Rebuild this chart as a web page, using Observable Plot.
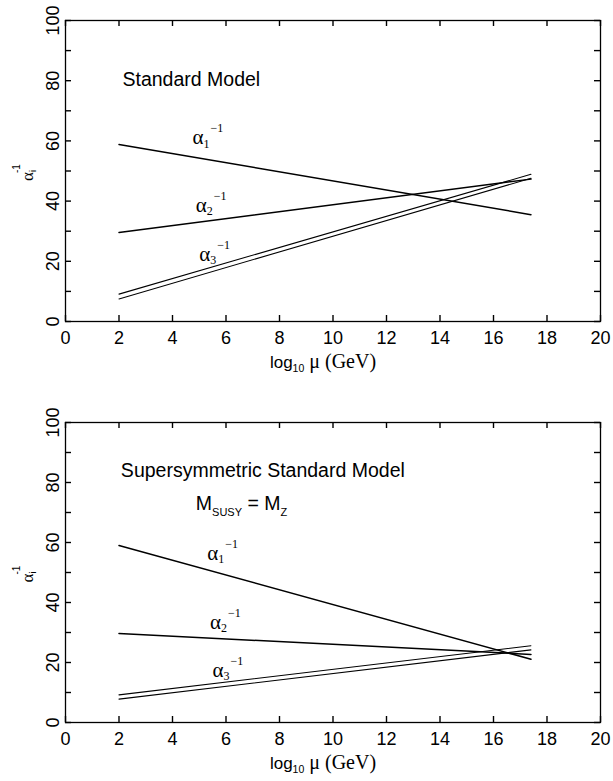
<!DOCTYPE html>
<html><head><meta charset="utf-8">
<script src="https://cdn.jsdelivr.net/npm/d3@7"></script>
<script src="https://cdn.jsdelivr.net/npm/@observablehq/plot@0.6"></script>
<style>
body{margin:0;background:#fff;}
#chart svg{display:block;}
</style></head><body><div id="chart"></div>
<script>
// ---- data ----
const xTicks = [0, 2, 4, 6, 8, 10, 12, 14, 16, 18, 20];
const yTicks = [0, 20, 40, 60, 80, 100];
const yMinorTicks = [0, 10, 20, 30, 40, 50, 60, 70, 80, 90, 100];
const mu = [2, 17.4]; // log10 mu (GeV) at start and end of each line

// Standard Model
const smAlpha1 = [58.8, 35.5];
const smAlpha2 = [29.6, 47.3];
const smAlpha3Upper = [9.1, 48.9];
const smAlpha3Lower = [7.5, 47.6];

// Supersymmetric Standard Model
const susyAlpha1 = [59.0, 21.1];
const susyAlpha2 = [29.7, 22.7];
const susyAlpha3Upper = [9.2, 25.6];
const susyAlpha3Lower = [7.8, 24.2];

// line labels: [x, y, subscript]
const smLabels = [[4.77, 58.7, "1"], [4.89, 36.3, "2"], [5.02, 20.0, "3"]];
const susyLabels = [[5.32, 54.1, "1"], [5.42, 31.1, "2"], [5.51, 15.1, "3"]];

const smTitle = {text: "Standard Model", x: 2.13, y: 78.1};
const susyTitle = {text: "Supersymmetric Standard Model", x: 2.07, y: 82.0};
const susyMass = {x: 4.89, y: 70.8};

const SANS = "Liberation Sans, Arial, sans-serif";
const SERIF = "Liberation Serif, Times New Roman, serif";
const X_DOMAIN = [0, 20], Y_DOMAIN = [0, 100];

function rows(values) { return mu.map((m, i) => ({mu: m, v: values[i]})); }

function panel({height, marginTop, marginBottom, series, title}) {
  const innerH = height - marginTop - marginBottom;
  const innerW = 613 - 65 - 13;
  const tl = 6; // inward tick length, px
  const tick = {stroke: "black", strokeWidth: 1.4};
  const marks = [
    Plot.frame({stroke: "black", strokeWidth: 1.3}),
    Plot.ruleX(xTicks, {x: d => d, insetTop: innerH - tl, ...tick}),
    Plot.ruleX(xTicks, {x: d => d, insetBottom: innerH - tl, ...tick}),
    Plot.ruleY(yMinorTicks, {y: d => d, insetRight: innerW - tl, ...tick}),
    Plot.ruleY(yMinorTicks, {y: d => d, insetLeft: innerW - tl, ...tick}),
    Plot.axisX({ticks: xTicks, tickSize: 0, tickPadding: 10, tickFormat: d => d, label: null, fontSize: 18}),
    Plot.axisY({ticks: yTicks, tickSize: 0, tickPadding: 12, tickFormat: d => d, label: null, fontSize: 18,
      rotate: -90, textAnchor: "middle", lineAnchor: "middle"}),
    ...series.map(s => Plot.line(rows(s.values), {x: "mu", y: "v", stroke: "black", strokeWidth: s.w})),
    Plot.text([title], {x: "x", y: "y", text: "text", textAnchor: "start", lineAnchor: "bottom",
      fontSize: 19.5, fontFamily: SANS, fill: "black"})
  ];
  return Plot.plot({
    width: 613, height, marginLeft: 65, marginRight: 13, marginTop, marginBottom,
    x: {domain: X_DOMAIN}, y: {domain: Y_DOMAIN},
    style: {fontFamily: SANS, fontSize: "18px", color: "black", background: "white"},
    marks
  });
}

function rich(g, parts, anchor = "start") {
  const t = g.append("text").attr("text-anchor", anchor).attr("fill", "black");
  parts.forEach(p => {
    const s = t.append("tspan").text(p.t).attr("font-family", p.f).attr("font-size", p.s).attr("y", p.dy || 0);
    if (p.x != null) s.attr("x", p.x);
  });
  return t;
}

function decorate(plot, labels, extra) {
  const svg = d3.select(plot.tagName === "svg" ? plot : plot.querySelector("svg"));
  const sx = plot.scale("x"), sy = plot.scale("y");
  const x0 = sx.apply(0), y0 = sy.apply(0);
  labels.forEach(([x, y, sub]) => {
    const g = svg.append("g").attr("transform", `translate(${sx.apply(x)},${sy.apply(y)})`);
    rich(g, [
      {t: "α", f: SERIF, s: 21},
      {t: sub, f: SERIF, s: 12, dy: 3.4},
      {t: "−1", f: SERIF, s: 12, dy: -12, x: 18}
    ]);
  });
  const gy = svg.append("g").attr("transform", `translate(${x0 - 32},${sy.apply(46.5)}) rotate(-90)`);
  rich(gy, [
    {t: "α", f: SERIF, s: 17},
    {t: "i", f: SANS, s: 9, dy: 3},
    {t: "-1", f: SANS, s: 10, dy: -13, x: 8}
  ]);
  const gx = svg.append("g").attr("transform", `translate(${sx.apply(7.66)},${y0 + 47})`);
  rich(gx, [
    {t: "log", f: SANS, s: 17},
    {t: "10", f: SANS, s: 10.5, dy: 4},
    {t: " μ (GeV)", f: SERIF, s: 20, dy: 0}
  ]);
  if (extra) extra(svg, sx, sy);
}

const topPlot = panel({
  height: 390, marginTop: 20, marginBottom: 69, title: smTitle,
  series: [
    {values: smAlpha1, w: 1.5}, {values: smAlpha2, w: 1.5},
    {values: smAlpha3Upper, w: 1.1}, {values: smAlpha3Lower, w: 1.1}
  ]
});
decorate(topPlot, smLabels);

const bottomPlot = panel({
  height: 391, marginTop: 32, marginBottom: 59, title: susyTitle,
  series: [
    {values: susyAlpha1, w: 1.5}, {values: susyAlpha2, w: 1.5},
    {values: susyAlpha3Upper, w: 1.1}, {values: susyAlpha3Lower, w: 1.1}
  ]
});
decorate(bottomPlot, susyLabels, (svg, sx, sy) => {
  const g = svg.append("g").attr("transform", `translate(${sx.apply(susyMass.x)},${sy.apply(susyMass.y)})`);
  rich(g, [
    {t: "M", f: SANS, s: 19.5},
    {t: "SUSY", f: SANS, s: 11, dy: 6},
    {t: " = M", f: SANS, s: 19.5, dy: 0},
    {t: "Z", f: SANS, s: 11, dy: 6}
  ]);
});

document.getElementById("chart").append(topPlot, bottomPlot);
</script>
</body></html>
